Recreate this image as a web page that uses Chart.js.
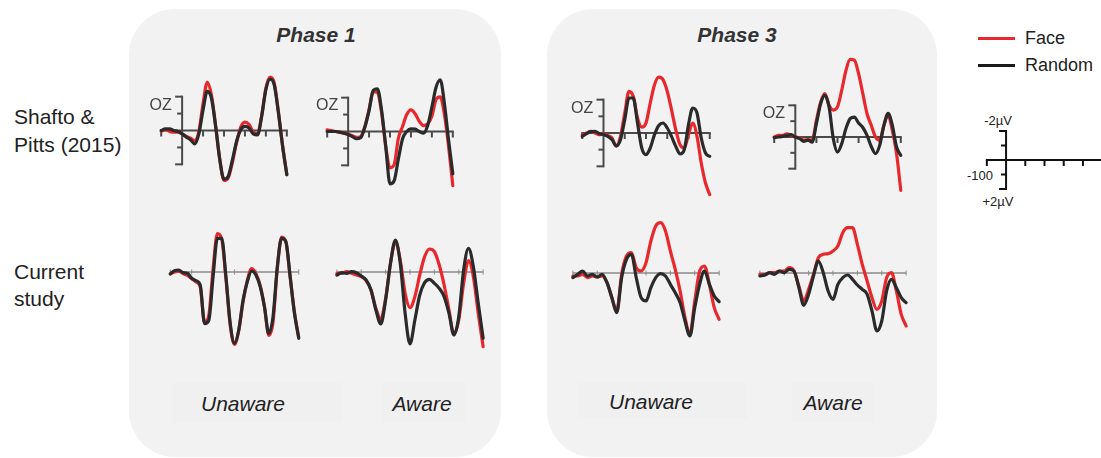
<!DOCTYPE html>
<html><head><meta charset="utf-8">
<script src="https://cdn.jsdelivr.net/npm/chart.js@4.4.0/dist/chart.umd.min.js"></script>
<style>
body{margin:0;background:#fff;width:1101px;height:458px;overflow:hidden;position:relative;font-family:"Liberation Sans",Arial,sans-serif;}
.panel{position:absolute;background:#f2f2f2;border-radius:46px;}
.box{position:absolute;background:#f0f0f0;}
.t{position:absolute;white-space:nowrap;line-height:1;}
.c{transform:translateX(-50%);}
.title{font-weight:bold;font-style:italic;font-size:21px;color:#333;}
.cond{font-style:italic;font-size:21px;color:#222;}
.row{font-size:21px;color:#222;}
.leg{font-size:18px;color:#222;}
.sb{font-size:13px;color:#222;}
.oz{font-size:16px;color:#444;transform:translateX(-100%);}
.sw{position:absolute;height:3px;}
canvas{position:absolute;}
</style></head>
<body>
<div class="panel" style="left:129px;top:9px;width:372px;height:448px"></div>
<div class="panel" style="left:547px;top:9px;width:390px;height:448px"></div>
<div class="box" style="left:172px;top:383px;width:170px;height:40px"></div>
<div class="box" style="left:382px;top:383px;width:83px;height:40px"></div>
<div class="box" style="left:577px;top:383px;width:170px;height:36px"></div>
<div class="box" style="left:792px;top:383px;width:83px;height:40px"></div>

<div class="t title c" style="left:316px;top:24px">Phase 1</div>
<div class="t title c" style="left:737px;top:24px">Phase 3</div>
<div class="t cond c" style="left:243px;top:393px">Unaware</div>
<div class="t cond c" style="left:422px;top:393px">Aware</div>
<div class="t cond c" style="left:651px;top:391px">Unaware</div>
<div class="t cond c" style="left:833px;top:392px">Aware</div>
<div class="t row" style="left:14px;top:106px">Shafto &amp;</div>
<div class="t row" style="left:14px;top:134px">Pitts (2015)</div>
<div class="t row" style="left:14px;top:261px">Current</div>
<div class="t row" style="left:14px;top:288px">study</div>

<div class="sw" style="left:978px;top:37px;width:37px;background:#e8282c"></div>
<div class="t leg" style="left:1025px;top:29px">Face</div>
<div class="sw" style="left:978px;top:64px;width:37px;background:#1a1a1a"></div>
<div class="t leg" style="left:1025px;top:56px">Random</div>
<div class="t sb c" style="left:998px;top:114px">-2µV</div>
<div class="t sb" style="left:967px;top:169px">-100</div>
<div class="t sb c" style="left:998px;top:195px">+2µV</div>

<script>
// time points (ms) shared by all waveforms
const TIMES = [-100,-80,-60,-40,-20,0,20,40,60,80,100,120,140,160,180,200,220,240,260,280,300,320,340,360,380,400,420,440,460,480,500];
const X_TICKS = [-100,0,100,200,300,400,500];
const Y_TICKS = [-2,-1,1,2];
const SERIES = ['Face','Random'];

// Shafto & Pitts (2015), Phase 1
const SP_P1_UNAWARE_FACE   = [0.05,-0.05,0.05,0.1,0.1,0.2,0.35,0.45,0.6,0.05,-1.6,-2.85,-2.1,-0.3,1.7,2.95,2.8,1.9,0.7,-0.2,-0.5,-0.35,0.1,0.2,-0.9,-2.5,-3.15,-2.8,-1.1,0.9,2.6];
const SP_P1_UNAWARE_RANDOM = [0,-0.1,-0.1,0,0.06,0.2,0.39,0.55,0.79,0.2,-1.22,-2.31,-1.91,-0.24,1.74,2.88,2.72,1.74,0.65,-0.04,-0.24,-0.14,0.2,0.26,-0.83,-2.41,-3.04,-2.7,-1.03,0.95,2.62];
const SP_P1_AWARE_FACE     = [-0.1,-0.05,0,0.05,0.1,0.15,0.25,0.35,0.3,-0.3,-1.3,-2.35,-2.3,-1.1,0.9,2.15,1.95,0.4,-0.3,-1.0,-1.28,-1.05,-0.6,-0.35,-0.45,-0.9,-1.9,-2.05,-1.0,0.9,3.2];
const SP_P1_AWARE_RANDOM   = [0,0,0,0.04,0.1,0.18,0.3,0.43,0.37,-0.26,-1.24,-2.43,-2.52,-1.24,0.93,3.1,2.9,1.62,0.43,0,-0.16,-0.14,0,0.1,-0.36,-1.44,-2.62,-3.06,-1.64,0.53,2.5];
// Shafto & Pitts (2015), Phase 3
const SP_P3_UNAWARE_FACE   = [0.1,0,-0.1,0,0.1,0.06,0.15,0.3,0.8,0.2,-1.2,-2.5,-2.2,-0.9,-0.35,-0.6,-1.8,-2.9,-3.35,-3.2,-2.5,-1.4,-0.2,0.7,0.9,0.1,-0.6,0.2,1.8,3.0,3.7];
const SP_P3_UNAWARE_RANDOM = [0.2,0.04,-0.08,-0.1,0.04,0.1,0.2,0.4,0.76,0.4,-0.8,-2.1,-2.1,-0.6,0.9,1.3,0.9,0.1,-0.45,-0.6,-0.3,0.2,0.8,1.25,1.0,-0.5,-1.5,-1.2,0.3,1.2,1.4];
const SP_P3_AWARE_FACE     = [0,-0.1,-0.1,-0.2,-0.1,0,0.04,0.2,0.17,0.2,-1.05,-2.2,-2.74,-2.0,-1.7,-1.9,-2.95,-4.2,-4.9,-4.85,-4.0,-2.74,-1.47,-0.74,0,0.2,-0.74,-1.37,-0.42,1.05,3.37];
const SP_P3_AWARE_RANDOM   = [0.04,0,-0.04,-0.1,-0.15,0,0.1,0.27,0.2,0.32,-0.84,-2.1,-2.63,-1.9,0.1,0.95,0.42,-0.53,-1.16,-1.26,-0.88,-0.6,-0.1,0.6,1.05,0.53,-0.74,-1.5,-0.74,0.63,1.16];
// Current study, Phase 1
const CS_P1_UNAWARE_FACE   = [0.1,0,-0.05,0.1,0.2,0.4,0.6,0.9,3.0,2.6,-0.2,-2.3,-2.0,0.4,3.2,4.35,3.5,1.8,0.5,-0.2,0.1,0.8,2.1,3.8,3.0,-0.2,-2.1,-1.8,0.3,2.4,3.9];
const CS_P1_UNAWARE_RANDOM = [0.12,-0.08,-0.12,0.04,0.08,0.38,0.52,0.78,3.1,2.9,0.28,-2.02,-2.02,0.28,3.08,4.28,3.48,1.68,0.58,-0.06,0.18,0.88,2.08,3.68,2.68,-0.32,-2.02,-1.82,0.28,2.48,3.98];
const CS_P1_AWARE_FACE     = [0.08,0.08,-0.02,0.08,0.18,0.28,0.52,1.08,2.18,2.84,1.58,-0.52,-1.78,-0.72,1.28,2.14,1.48,0.18,-0.92,-1.38,-1.22,-0.42,0.78,2.28,3.72,2.88,0.68,-0.68,0.28,2.48,4.48];
const CS_P1_AWARE_RANDOM   = [0.18,0.04,0.08,-0.02,0.04,0.24,0.48,1.08,2.28,3.12,1.68,-0.52,-1.92,-0.52,2.48,4.32,2.88,1.38,0.64,0.44,0.68,0.98,1.48,2.48,3.78,2.68,-0.12,-1.42,-0.32,1.88,3.98];
// Current study, Phase 3
const CS_P3_UNAWARE_FACE   = [0.18,0.18,0.08,0.28,0.18,0.24,0.18,0.58,1.48,2.28,0.08,-1.02,-1.22,-0.32,-0.12,-0.62,-1.92,-2.82,-3.02,-2.52,-1.32,-0.22,1.08,2.68,3.68,1.68,-0.12,-0.42,0.68,2.08,2.78];
const CS_P3_UNAWARE_RANDOM = [0.28,0.08,-0.12,0.18,0.08,0.24,0.08,0.58,1.48,2.38,0.28,-0.82,-1.12,0.28,1.48,1.68,0.88,0.28,0.04,0.18,0.68,1.18,1.78,2.88,3.78,2.08,0.68,-0.12,0.68,1.38,1.72];
const CS_P3_AWARE_FACE     = [0.08,0.12,-0.02,-0.02,-0.12,-0.12,-0.32,-0.12,0.78,1.68,0.98,0.08,-0.92,-1.12,-1.16,-1.32,-1.62,-2.42,-2.72,-2.72,-1.72,-0.52,0.48,1.48,2.18,1.68,0.28,-0.02,1.08,2.48,3.18];
const CS_P3_AWARE_RANDOM   = [0.18,0.12,-0.02,0.08,-0.12,-0.02,-0.22,-0.12,0.88,1.94,1.28,0.18,-0.72,-0.02,1.08,1.58,0.68,0.28,0.12,0.38,0.72,0.98,1.28,2.28,3.48,2.88,1.08,0.38,0.88,1.48,1.78];

const RED = '#e8282c', BLACK = '#2a2a2a';

// placement of each small plot: pixel of 0 ms, px per 100 ms, pixel of 0 µV, px per µV
const PANELS = [
  {face:SP_P1_UNAWARE_FACE, rand:SP_P1_UNAWARE_RANDOM, x0:181.7, px100:21.0, y0:130.7, pxUV:16.9, mode:'top'},
  {face:SP_P1_AWARE_FACE,   rand:SP_P1_AWARE_RANDOM,   x0:348.3, px100:21.0, y0:131.0, pxUV:16.9, mode:'top'},
  {face:SP_P3_UNAWARE_FACE, rand:SP_P3_UNAWARE_RANDOM, x0:603.3, px100:21.3, y0:133.3, pxUV:16.7, mode:'top'},
  {face:SP_P3_AWARE_FACE,   rand:SP_P3_AWARE_RANDOM,   x0:795.0, px100:21.1, y0:136.7, pxUV:15.8, mode:'top'},
  {face:CS_P1_UNAWARE_FACE, rand:CS_P1_UNAWARE_RANDOM, x0:191.7, px100:21.4, y0:272.0, pxUV:16.7, mode:'bottom'},
  {face:CS_P1_AWARE_FACE,   rand:CS_P1_AWARE_RANDOM,   x0:361.6, px100:24.3, y0:272.0, pxUV:16.7, mode:'bottom'},
  {face:CS_P3_UNAWARE_FACE, rand:CS_P3_UNAWARE_RANDOM, x0:597.7, px100:24.4, y0:272.7, pxUV:16.7, mode:'bottom'},
  {face:CS_P3_AWARE_FACE,   rand:CS_P3_AWARE_RANDOM,   x0:784.4, px100:24.4, y0:272.7, pxUV:16.7, mode:'bottom'},
  {face:null, rand:null, x0:1006, px100:19.2, y0:160, pxUV:14.5, mode:'bar'}
];

const XMIN = -120, XMAX = 520, YLIM = 6;

const axisPlugin = {
  id: 'erpAxes',
  beforeDatasetsDraw(chart, args, opts) {
    const ctx = chart.ctx, xs = chart.scales.x, ys = chart.scales.y;
    const X = v => xs.getPixelForValue(v), Y = v => ys.getPixelForValue(v);
    const seg = (a,b,c,d) => { ctx.beginPath(); ctx.moveTo(a,b); ctx.lineTo(c,d); ctx.stroke(); };
    ctx.save();
    if (opts.mode === 'bottom') {
      ctx.strokeStyle = '#8a8a8a'; ctx.lineWidth = 1.3;
      seg(X(-100), Y(0), X(500), Y(0));
      ctx.lineWidth = 1;
      X_TICKS.forEach(t => seg(X(t), Y(0)-2.5, X(t), Y(0)+2.5));
    } else {
      ctx.strokeStyle = opts.mode === 'bar' ? '#111' : '#4a4a4a';
      ctx.lineWidth = 2;
      ctx.lineCap = 'square';
      seg(X(-100), Y(0), X(500), Y(0));
      seg(X(0), Y(-2), X(0), Y(2));
      ctx.lineCap = 'butt';
      X_TICKS.forEach(t => { if (t !== 0) seg(X(t), Y(0), X(t), Y(0)+6); });
      Y_TICKS.forEach(v => { const len = Math.abs(v) === 2 ? 7 : 5; seg(X(0)-len, Y(v), X(0), Y(v)); });
    }
    ctx.restore();
  }
};

PANELS.forEach((p, i) => {
  const w = (XMAX - XMIN) / 100 * p.px100;
  const h = 2 * YLIM * p.pxUV;
  const cv = document.createElement('canvas');
  cv.width = Math.round(w); cv.height = Math.round(h);
  cv.style.left = (p.x0 + XMIN / 100 * p.px100) + 'px';
  cv.style.top = (p.y0 - YLIM * p.pxUV) + 'px';
  document.body.appendChild(cv);
  const datasets = [];
  if (p.face) {
    datasets.push({label: SERIES[0], data: TIMES.map((t,k)=>({x:t, y:p.face[k]})), borderColor: RED, borderWidth: 3.2, order: 2});
    datasets.push({label: SERIES[1], data: TIMES.map((t,k)=>({x:t, y:p.rand[k]})), borderColor: BLACK, borderWidth: 3.2, order: 1});
  }
  new Chart(cv, {
    type: 'line',
    data: {datasets},
    options: {
      responsive: false, animation: false, events: [],
      layout: {padding: 0},
      elements: {point: {radius: 0}, line: {cubicInterpolationMode: 'monotone', borderCapStyle: 'round', borderJoinStyle: 'round'}},
      plugins: {legend: {display: false}, tooltip: {enabled: false}, erpAxes: {mode: p.mode}},
      scales: {
        x: {type: 'linear', min: XMIN, max: XMAX, display: false},
        y: {type: 'linear', min: -YLIM, max: YLIM, reverse: true, display: false}
      }
    },
    plugins: [axisPlugin]
  });
  if (p.mode === 'top') {
    const d = document.createElement('div');
    d.className = 't oz';
    d.textContent = 'OZ';
    d.style.left = (p.x0 - 10) + 'px';
    d.style.top = (p.y0 - 2 * p.pxUV) + 'px';
    document.body.appendChild(d);
  }
});
</script>
</body></html>
